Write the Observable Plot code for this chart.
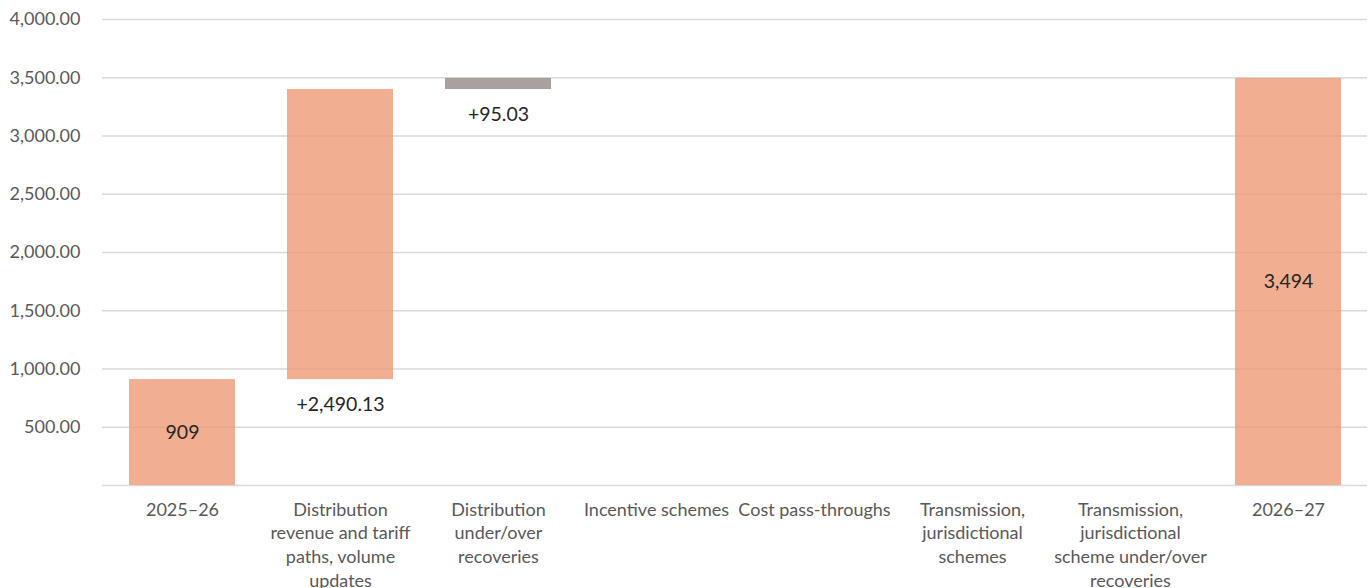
<!DOCTYPE html>
<html>
<head>
<meta charset="utf-8">
<script src="https://cdn.jsdelivr.net/npm/d3@7"></script>
<script src="https://cdn.jsdelivr.net/npm/@observablehq/plot@0.6"></script>
<style>
  html, body { margin: 0; padding: 0; background: #fff; }
  svg { display: block; }
</style>
</head>
<body>
<div id="chart"></div>
<script>
const categories = [
  "2025–26",
  "Distribution\nrevenue and tariff\npaths, volume\nupdates",
  "Distribution\nunder/over\nrecoveries",
  "Incentive schemes",
  "Cost pass-throughs",
  "Transmission,\njurisdictional\nschemes",
  "Transmission,\njurisdictional\nscheme under/over\nrecoveries",
  "2026–27"
];
const kinds = ["total", "delta", "delta", "delta", "delta", "delta", "delta", "total"];
const values = [909, 2490.13, 95.03, 0, 0, 0, 0, 3494];
const labels = ["909", "+2,490.13", "+95.03", "", "", "", "", "3,494"];
const colors = ["#ed9a74", "#ed9a74", "#928a86", "#ed9a74", "#ed9a74", "#ed9a74", "#ed9a74", "#ed9a74"];
const yTicks = [500, 1000, 1500, 2000, 2500, 3000, 3500, 4000];

// build waterfall rows
let running = 0;
const rows = categories.map((c, i) => {
  let y1, y2;
  if (kinds[i] === "total") { y1 = 0; y2 = values[i]; running = values[i]; }
  else { y1 = running; y2 = running + values[i]; running = y2; }
  return {cat: c, y1, y2, label: labels[i], color: colors[i], kind: kinds[i], value: values[i]};
});
const barRows = rows.filter(d => d.value !== 0);
const totalLabels = rows.filter(d => d.kind === "total");
const deltaLabels = rows.filter(d => d.kind === "delta" && d.value !== 0);

const font = "Lato, 'Open Sans', sans-serif";

const chart = Plot.plot({
  width: 1370,
  height: 588,
  marginLeft: 102,
  marginRight: 3,
  marginTop: 19,
  marginBottom: 103,
  style: {fontFamily: font, fontSize: "18px", color: "#595959", background: "#fff"},
  x: {domain: categories, paddingInner: 0.33, paddingOuter: 0.167, label: null},
  y: {domain: [0, 4000], label: null},
  marks: [
    Plot.ruleY(yTicks, {stroke: "#d9d9d9", strokeWidth: 1.5}),
    Plot.ruleY([0], {stroke: "#d9d9d9", strokeWidth: 1.5}),
    Plot.barY(barRows, {x: "cat", y1: "y1", y2: "y2", fill: "color", fillOpacity: 0.8}),
    Plot.text(totalLabels, {x: "cat", y: d => (d.y1 + d.y2) / 2, text: "label", fill: "#262626", fontSize: 19.5}),
    Plot.text(deltaLabels, {x: "cat", y: "y1", text: "label", fill: "#262626", fontSize: 19.5, dy: 25}),
    Plot.axisY({ticks: yTicks, tickFormat: d3.format(",.2f"), tickSize: 0, tickPadding: 22, fontSize: 18, fill: "#595959", label: null}),
    Plot.axisX({tickSize: 0, tickPadding: 13, fontSize: 18, lineHeight: 1.33, fill: "#595959", label: null})
  ]
});
document.getElementById("chart").appendChild(chart);
</script>
</body>
</html>
